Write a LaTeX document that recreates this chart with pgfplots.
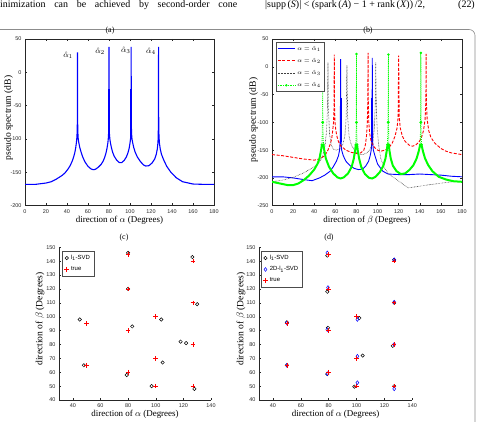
\documentclass[border=0pt]{standalone}
\usepackage{fontspec}
\setmainfont{Liberation Serif}
\setsansfont{Liberation Sans}
\usepackage{pgfplots}
\pgfplotsset{compat=1.18}

\definecolor{mblue}{rgb}{0,0,1}
\definecolor{mred}{rgb}{1,0,0}
\definecolor{mgreen}{rgb}{0,1,0}
\definecolor{framegray}{gray}{0.55}

\pgfplotsset{
  panel/.style={
    scale only axis,
    tick align=inside,
    major tick length=2.2bp,
    axis line style={black!85, line width=0.5pt},
    every tick/.style={black!85, line width=0.4pt},
    ticklabel style={font=\sffamily\fontsize{5.5}{6}\selectfont, text=black!85},
    /pgf/number format/assume math mode=true,
    scaled ticks=false,
    xlabel style={font=\fontsize{9}{10}\selectfont, at={(axis description cs:0.5,0)}, anchor=center, yshift=-14.8bp},
    ylabel style={font=\fontsize{9.6}{10}\selectfont, anchor=center},
  },
  openbox/.style={axis x line*=bottom, axis y line*=left,
    x axis line style={-}, y axis line style={-},
    xtick pos=left, ytick pos=left},
  spike/.style={line width=1.8pt, forget plot},
}

\begin{document}
\begin{tikzpicture}
\path[use as bounding box] (0bp,0bp) rectangle (477bp,422bp);

% running text above the figure
\node[anchor=base west, inner sep=0, font=\fontsize{10}{12}\selectfont] at (0bp,414.5bp)
  {\makebox[237bp][s]{inimization can be achieved by second-order cone}};
\node[anchor=base west, inner sep=0, font=\fontsize{10}{12}\selectfont] at (265bp,414.5bp)
  {|supp\,(\textit{S})| < (spark\,(\textit{A}) − 1 + rank\,(\textit{X}))\,/2,};
\node[anchor=base east, inner sep=0, font=\fontsize{10}{12}\selectfont] at (475bp,414.5bp) {(22)};

% figure frame
\draw[framegray, line width=0.6pt] (0bp,392.5bp) -- (469bp,392.5bp)
  arc[start angle=90, end angle=0, radius=6bp] -- (475bp,-2bp);

% ---------------- (a) ----------------
\begin{axis}[panel,
  at={(25bp,216.3bp)}, anchor=south west, width=189bp, height=166.7bp,
  xmin=0, xmax=180, ymin=-200, ymax=50,
  xtick={0,20,...,180}, ytick={-200,-150,...,50},
  xlabel={direction of $\alpha$ (Degrees)},
  ylabel={pseudo spectrum (dB)},
  ylabel style={at={(axis description cs:-0.087,0.526)}},
]
\addplot[mblue, line width=1.1pt] coordinates {
 (0,-168) (10,-168) (20,-166) (25,-164) (30,-160) (35,-155) (38,-151) (41,-145)
 (43,-140) (45,-133) (46.5,-126) (47.5,-120) (48.3,-113) (48.9,-106) (49.3,-100)
 (49.6,-92) (49.8,-80) (49.9,-60) (50,30) (50.1,-60) (50.2,-80) (50.4,-92)
 (50.7,-100) (51.3,-106) (52.2,-113) (53.5,-120) (55,-127) (57,-134) (60,-141)
 (63,-145) (65,-146) (67,-145.5) (70,-142) (72.5,-138) (74.5,-133) (76,-127)
 (77.3,-120) (78.2,-113) (78.9,-106) (79.3,-100) (79.6,-92) (79.8,-80) (79.9,-60)
 (80,38) (80.1,-60) (80.2,-80) (80.4,-92) (80.8,-100) (81.4,-106) (82.3,-113)
 (83.5,-120) (85,-126) (87.5,-132) (90,-135.5) (92,-135.5) (94.5,-132) (96.5,-127)
 (98,-121) (99.2,-114) (100,-106) (100.5,-100) (100.8,-92) (100.9,-80) (101,-60)
 (101.1,38) (101.2,-60) (101.3,-80) (101.5,-92) (101.9,-100) (102.6,-106)
 (103.6,-113) (105,-120) (107,-127) (110,-134) (113,-139) (115,-140.5) (118,-140)
 (121,-136) (123.5,-130) (125,-123) (126,-115) (126.6,-106) (126.9,-95) (127,-80)
 (127.1,-60) (127.2,38) (127.3,-60) (127.4,-80) (127.6,-95) (128,-106) (128.8,-115)
 (130,-123) (132,-131) (135,-141) (139,-150) (144,-158) (150,-164) (160,-167.5)
 (170,-168) (180,-168)
};
\addplot[mblue, spike] coordinates {(50,-30) (50,-95)};
\addplot[mblue, spike] coordinates {(80,-25) (80,-95)};
\addplot[mblue, spike] coordinates {(101.1,-25) (101.1,-95)};
\addplot[mblue, spike] coordinates {(127.2,-30) (127.2,-95)};
\node[font=\fontsize{8}{9}\selectfont] at (axis cs:41,25) {$\hat{\alpha}_1$};
\node[font=\fontsize{8}{9}\selectfont] at (axis cs:71.5,31) {$\hat{\alpha}_2$};
\node[font=\fontsize{8}{9}\selectfont] at (axis cs:96,33) {$\hat{\alpha}_3$};
\node[font=\fontsize{8}{9}\selectfont] at (axis cs:120,32) {$\hat{\alpha}_4$};
\end{axis}

% ---------------- (b) ----------------
\begin{axis}[panel,
  at={(272bp,216.3bp)}, anchor=south west, width=190bp, height=166.7bp,
  xmin=0, xmax=180, ymin=-250, ymax=50,
  xtick={0,20,...,180}, ytick={-250,-200,...,50},
  xlabel={direction of $\beta$ (Degrees)},
  ylabel={pseudo spectrum (dB)},
  ylabel style={at={(axis description cs:-0.097,0.514)}},
  unbounded coords=jump,
  legend style={at={(0.0195,0.981)}, anchor=north west, draw=black!70,
    font=\fontsize{6.5}{7}\selectfont, inner sep=1.5pt, row sep=2.6pt,
    legend cell align=left},
]
\addlegendimage{mblue, line width=0.9pt}
\addlegendentry{$\alpha=\hat{\alpha}_1$}
\addlegendimage{mred, line width=0.9pt, dash pattern=on 3pt off 1.6pt}
\addlegendentry{$\alpha=\hat{\alpha}_2$}
\addlegendimage{black!75, line width=0.6pt, dash pattern=on 0.6pt off 0.9pt}
\addlegendentry{$\alpha=\hat{\alpha}_3$}
\addlegendimage{mgreen, line width=0.7pt, dash pattern=on 0.7pt off 1pt, mark=*, mark size=0.8pt, mark options={solid}}
\addlegendentry{$\alpha=\hat{\alpha}_4$}

% alpha = alpha_1
\addplot[mblue, line width=0.9pt, forget plot] coordinates {
 (0,-198) (10,-198) (20,-200) (30,-203) (38,-205) (45,-200) (50,-195) (55,-188)
 (58,-180) (61,-170) (63,-160) (64,-150) (64.6,-135) (64.9,-55) (65,14) (65.1,-55)
 (65.4,-135) (66,-150) (67.5,-160) (70,-170) (74,-178) (78,-183) (82,-185) (86,-184)
 (89,-178) (91.5,-170) (93,-160) (94,-150) (94.6,-135) (94.9,-55) (95,16) (95.1,-55)
 (95.4,-135) (96,-150) (97.5,-160) (100,-175) (105,-188) (110,-193) (120,-194)
 (130,-194) (140,-193) (150,-194) (160,-195) (170,-197) (180,-198)
};
\addplot[mblue, spike] coordinates {(65,-56) (65,-136)};
\addplot[mblue, spike] coordinates {(95,-56) (95,-136)};
% alpha = alpha_2
\addplot[mred, line width=0.9pt, dash pattern=on 3pt off 1.6pt, forget plot] coordinates {
 (0,-158) (10,-160) (20,-163) (30,-166) (40,-168) (45,-166) (50,-160) (53,-150)
 (55,-140) (56.5,-130) (57.5,-115) (58.3,-100) (58.8,-70) (59,22) (59.2,-70)
 (59.7,-100) (60.5,-115) (61.5,-125) (63,-135) (65,-142) (70,-150) (75,-154)
 (80,-156) (84,-155) (87,-150) (88.5,-140) (89.5,-125) (90.3,-100) (90.8,-60)
 (91,25) (91.2,-60) (91.7,-100) (92.5,-120) (94,-135) (97,-145) (100,-150)
 (103,-152) (107,-150) (111,-145) (114,-137) (116.5,-125) (118.5,-110) (119.5,-90)
 (120,20) (120.5,-90) (121.5,-110) (123.5,-125) (126,-134) (130,-141) (133,-143)
 (136,-141) (139,-136) (141.5,-128) (143.5,-115) (145,-95) (145.8,-60) (146,23)
 (146.2,-60) (147,-95) (148.5,-115) (150.5,-127) (154,-137) (160,-147) (165,-152)
 (170,-155) (180,-158)
};
% alpha = alpha_3
\addplot[black!75, line width=0.6pt, dash pattern=on 0.6pt off 0.9pt, forget plot] coordinates {
 (0,-207) (10,-204) (20,-199) (30,-191) (40,-180) (45,-172) (48,-160) (50,-145)
 (51.5,-120) (52.5,-80) (53,8) (53.5,-80) (54.5,-120) (56,-140) (58,-148) (61,-150)
 (64,-148) (67,-140) (69,-125) (70.3,-90) (71,3) (71.7,-90) (73,-125) (75,-140)
 (78,-150) (82,-157) (86,-158) (90,-155) (93,-148) (95.5,-135) (97,-110) (97.8,-70)
 (98.3,8) (98.8,-70) (99.6,-110) (101,-140) (103,-165) (106,-180) (110,-192)
 (129,-218) (150,-212) (170,-207) (180,-206)
};
% alpha = alpha_4: dense dot markers give a broad band along the curve
\addplot[mgreen, line width=2pt, forget plot] coordinates {
 (0,-207) (5,-209) (10,-211) (15,-213) (20,-213) (25,-210) (30,-204) (35,-196)
 (40,-185) (43,-175) (45,-165) (46.5,-150) (47.3,-140) (48,nan) (48.7,-140)
 (49.5,-150) (51,-165) (54,-180) (58,-192) (62,-199) (65,-201) (68,-199) (72,-192)
 (75.5,-180) (77.5,-165) (78.8,-150) (79.4,-140) (80,nan) (80.6,-140) (81.2,-150)
 (82.5,-165) (84.5,-180) (88,-193) (92,-200) (95,-201) (98,-198) (102,-190)
 (105.5,-178) (107.5,-165) (108.8,-150) (109.4,-140) (110,nan) (110.6,-140)
 (111.2,-150) (112.5,-165) (114.5,-178) (118,-188) (122,-193) (126,-192) (130,-186)
 (134,-177) (137,-165) (139,-152) (140.4,-140) (141,nan) (141.6,-140) (143,-152)
 (145,-165) (148,-177) (152,-188) (158,-198) (165,-203) (172,-206) (180,-207)
};
\addplot[mgreen, line width=0.8pt, dash pattern=on 0.8pt off 1.1pt, mark=*, mark size=0.8pt, mark options={solid}, forget plot]
  coordinates {(47.3,-140) (47.8,-100) (48,19) (48.2,-100) (48.7,-140)};
\addplot[mgreen, line width=0.8pt, dash pattern=on 0.8pt off 1.1pt, mark=*, mark size=0.8pt, mark options={solid}, forget plot]
  coordinates {(79.4,-140) (79.9,-100) (80,23) (80.1,-100) (80.6,-140)};
\addplot[mgreen, line width=0.8pt, dash pattern=on 0.8pt off 1.1pt, mark=*, mark size=0.8pt, mark options={solid}, forget plot]
  coordinates {(109.4,-140) (109.9,-100) (110.3,22) (110.4,-100) (110.6,-140)};
\addplot[mgreen, line width=0.8pt, dash pattern=on 0.8pt off 1.1pt, mark=*, mark size=0.8pt, mark options={solid}, forget plot]
  coordinates {(140.4,-140) (140.8,-100) (141,25) (141.2,-100) (141.6,-140)};
\end{axis}

% ---------------- (c) ----------------
\begin{axis}[panel, openbox,
  at={(59bp,22bp)}, anchor=south west, width=152bp, height=152.7bp,
  xmin=30, xmax=140, ymin=40, ymax=150,
  xtick={40,60,...,140}, ytick={40,50,...,150},
  xlabel={direction of $\alpha$ (Degrees)},
  ylabel={direction of $\beta$ (Degrees)},
  ylabel style={at={(axis description cs:-0.125,0.53)}},
  legend style={at={(0.0217,0.976)}, anchor=north west, draw=black!70,
    font=\sffamily\fontsize{6}{7}\selectfont, inner sep=2pt, row sep=1.6pt,
    legend cell align=left},
]
\addplot[only marks, mark=o, mark size=1.7bp, black, line width=0.5pt] coordinates {
 (45,98) (48,65) (79,58) (80,146) (80,120) (83,93) (104,98) (105,67) (97,50)
 (126.5,143) (130,109) (118,82) (122,81) (128,48)
};
\addlegendentry{l\textsubscript{1}-SVD\hspace{4pt}}
\addplot[only marks, mark=+, mark size=2.3bp, mred, line width=0.7pt] coordinates {
 (50,95) (50,65) (80,145) (80,120) (80,90) (80,60) (100,100) (100,70) (100,50)
 (127,140) (127,110) (127,80) (127,50)
};
\addlegendentry{true}
\end{axis}

% ---------------- (d) ----------------
\begin{axis}[panel, openbox,
  at={(259bp,22bp)}, anchor=south west, width=153.3bp, height=152.7bp,
  xmin=30, xmax=140, ymin=40, ymax=150,
  xtick={40,60,...,140}, ytick={40,50,...,150},
  xlabel={direction of $\alpha$ (Degrees)},
  ylabel={direction of $\beta$ (Degrees)},
  ylabel style={at={(axis description cs:-0.117,0.53)}},
  legend style={at={(0.013,0.976)}, anchor=north west, draw=black!70,
    font=\sffamily\fontsize{6}{7}\selectfont, inner sep=2pt, row sep=1.6pt,
    legend cell align=left},
]
\addplot[only marks, mark=o, mark size=1.7bp, black, line width=0.5pt] coordinates {
 (50,96) (50,65) (79,144) (79,118) (79.5,92) (79,58.7) (102,99) (104.4,72) (98.4,49.6)
 (127,141) (127,110) (126,79) (127,50)
};
\addlegendentry{l\textsubscript{1}-SVD}
\addplot[only marks, mark=diamond, mark size=1.9bp, mblue, line width=0.5pt] coordinates {
 (50,95.5) (50,65) (79,146) (79.5,121) (79,90.7) (79,59) (100.6,98) (100.6,71.5)
 (100.6,52.5) (127,141) (127,110.5) (127,80) (127,48)
};
\addlegendentry{2D-l\textsubscript{1}-SVD\hspace{3pt}}
\addplot[only marks, mark=+, mark size=2.3bp, mred, line width=0.7pt] coordinates {
 (50,95) (50,65) (80,145) (80,120) (80,90) (80,60) (100,100) (100,70) (100,50)
 (127,140) (127,110) (127,80) (127,50)
};
\addlegendentry{true}
\end{axis}

% panel captions
\node[font=\fontsize{8}{9}\selectfont] at (110bp,391bp) {(a)};
\node[font=\fontsize{8}{9}\selectfont] at (368bp,391bp) {(b)};
\node[font=\fontsize{8}{9}\selectfont] at (124bp,184bp) {(c)};
\node[font=\fontsize{8}{9}\selectfont] at (329bp,184bp) {(d)};
\end{tikzpicture}
\end{document}
